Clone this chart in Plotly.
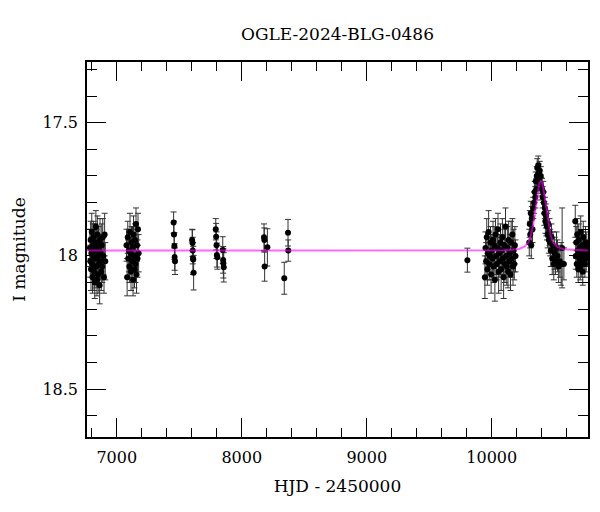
import plotly.graph_objects as go

# ---- photometry, season by season (HJD-2450000, I mag, error) ----
hjd_s1 = [6785, 6788, 6791, 6794, 6797, 6800, 6803, 6806, 6809, 6812, 6815, 6818, 6821, 6824, 6827, 6830, 6833, 6836, 6839, 6842,
          6845, 6848, 6851, 6854, 6857, 6860, 6863, 6866, 6869, 6872, 6876, 6880, 6884, 6888, 6893, 6898, 6903, 6908]
mag_s1 = [17.97, 18.02, 17.94, 18.05, 17.99, 17.91, 18.03, 18.08, 17.96, 18.00, 17.93, 18.06, 17.98, 18.10, 17.95, 18.01, 17.89, 18.04, 17.97, 18.09,
          17.92, 18.00, 18.07, 17.95, 18.03, 17.98, 18.11, 17.94, 18.02, 17.99, 18.06, 17.96, 18.04, 17.93, 18.00, 18.08, 17.92, 18.02]
err_s1 = [0.07, 0.06, 0.07, 0.08, 0.06, 0.07, 0.07, 0.06, 0.08, 0.07, 0.06, 0.07, 0.08, 0.06, 0.07, 0.07, 0.06, 0.08, 0.07, 0.06,
          0.07, 0.08, 0.07, 0.06, 0.07, 0.06, 0.07, 0.08, 0.07, 0.06, 0.07, 0.08, 0.06, 0.07, 0.07, 0.06, 0.08, 0.07]

hjd_s2 = [7078, 7083, 7088, 7092, 7097, 7101, 7106, 7110, 7114, 7118, 7122, 7126, 7130, 7134, 7138, 7142, 7146, 7150, 7154, 7158, 7162, 7166, 7170, 7175]
mag_s2 = [17.96, 18.08, 17.93, 18.01, 17.98, 18.04, 17.91, 17.99, 18.06, 17.95, 18.02, 17.97, 18.09, 17.92, 18.00, 18.05, 17.94, 18.03, 17.88, 18.07, 17.96, 18.01, 17.90, 17.99]
err_s2 = [0.06, 0.07, 0.06, 0.07, 0.08, 0.06, 0.07, 0.06, 0.07, 0.06, 0.07, 0.08, 0.06, 0.07, 0.06, 0.07, 0.06, 0.07, 0.06, 0.07, 0.06, 0.07, 0.06, 0.07]

hjd_mid = [7455, 7458, 7461, 7463, 7466, 7603, 7606, 7608, 7610, 7612, 7615, 7792, 7795, 7798, 7801, 7805, 7848, 7851, 7853, 7856,
           8178, 8181, 8183, 8205, 8340, 8370, 8372, 9805]
mag_mid = [17.875, 17.92, 17.963, 18.004, 18.02, 17.94, 17.952, 17.98, 18.01, 18.014, 18.063, 17.90, 17.928, 17.96, 17.997, 18.005, 17.978, 18.015, 18.028, 18.043,
           17.93, 17.94, 18.04, 17.968, 18.084, 17.913, 17.98, 18.016]
err_mid = [0.04, 0.05, 0.05, 0.05, 0.05, 0.04, 0.05, 0.05, 0.06, 0.05, 0.065, 0.04, 0.05, 0.05, 0.045, 0.045, 0.05, 0.05, 0.055, 0.055,
           0.05, 0.045, 0.055, 0.07, 0.06, 0.05, 0.04, 0.045]

hjd_s9 = [9945, 9950, 9955, 9960, 9965, 9970, 9975, 9980, 9985, 9990, 9995, 10000, 10005, 10010, 10015, 10020, 10025, 10030, 10035, 10040,
          10045, 10050, 10055, 10060, 10065, 10070, 10075, 10080, 10085, 10090, 10095, 10100, 10105, 10110, 10115, 10120, 10125, 10130, 10135, 10140,
          10145, 10150, 10155, 10160, 10165, 10170, 10175, 10180, 10185, 10190]
mag_s9 = [18.08, 17.97, 18.02, 17.93, 18.05, 17.99, 17.91, 18.03, 18.00, 17.95, 18.07, 17.98, 18.01, 17.94, 18.04, 17.96, 18.09, 17.92, 18.00, 18.03,
          17.97, 17.90, 18.06, 17.99, 18.02, 17.95, 18.05, 17.98, 17.93, 18.01, 18.08, 17.96, 18.03, 17.89, 18.00, 18.04, 17.97, 18.06, 17.94, 18.02,
          17.99, 18.07, 17.95, 18.01, 17.92, 18.04, 17.98, 18.03, 17.96, 18.00]
err_s9 = [0.08, 0.06, 0.07, 0.07, 0.06, 0.07, 0.08, 0.06, 0.07, 0.06, 0.07, 0.06, 0.08, 0.07, 0.06, 0.07, 0.08, 0.06, 0.07, 0.06,
          0.07, 0.06, 0.08, 0.07, 0.06, 0.07, 0.08, 0.06, 0.07, 0.06, 0.08, 0.06, 0.07, 0.07, 0.06, 0.07, 0.08, 0.06, 0.07, 0.06,
          0.07, 0.06, 0.08, 0.07, 0.06, 0.07, 0.08, 0.06, 0.07, 0.06]

hjd_pk = [10300, 10304, 10308, 10312, 10316, 10320, 10326, 10332, 10338, 10343, 10348, 10352, 10356,
          10360, 10364, 10368, 10372, 10376, 10380, 10384, 10388, 10392, 10396, 10402, 10407, 10412,
          10417, 10421, 10425, 10429, 10433, 10437, 10442, 10447, 10452, 10457, 10462,
          10467, 10472, 10478, 10484, 10490, 10496, 10503, 10510, 10518, 10526, 10535, 10545, 10555, 10563, 10577]
mag_pk = [17.95, 17.88, 17.92, 17.84, 17.96, 17.86, 17.90, 17.82, 17.80, 17.76, 17.78, 17.72, 17.75,
          17.70, 17.67, 17.72, 17.66, 17.69, 17.71, 17.68, 17.73, 17.70, 17.74, 17.75, 17.78, 17.76,
          17.80, 17.84, 17.82, 17.87, 17.85, 17.88, 17.89, 17.92, 17.88, 17.94, 17.91,
          17.95, 17.98, 17.93, 18.01, 17.96, 18.03, 17.99, 18.02, 17.97, 18.00, 18.04, 18.02, 18.03, 17.97, 18.03]
err_pk = [0.05, 0.05, 0.05, 0.045, 0.05, 0.045, 0.05, 0.04, 0.04, 0.04, 0.04, 0.035, 0.04,
          0.035, 0.035, 0.035, 0.035, 0.035, 0.035, 0.035, 0.035, 0.035, 0.035, 0.04, 0.04, 0.04,
          0.04, 0.045, 0.04, 0.045, 0.045, 0.045, 0.05, 0.05, 0.05, 0.05, 0.05,
          0.05, 0.06, 0.05, 0.06, 0.05, 0.06, 0.06, 0.05, 0.06, 0.06, 0.06, 0.06, 0.08, 0.15, 0.06]

hjd_s11 = [10668, 10672, 10676, 10680, 10684, 10688, 10692, 10696, 10700, 10704, 10708, 10712, 10716, 10720, 10724, 10728, 10732, 10736, 10740, 10745, 10750, 10755, 10760, 10765]
mag_s11 = [17.87, 18.00, 17.95, 18.03, 17.92, 17.98, 18.05, 17.94, 18.01, 17.97, 18.04, 17.91, 17.99, 18.02, 17.96, 18.06, 17.93, 18.00, 17.98, 18.03, 17.95, 18.01, 17.97, 17.99]
err_s11 = [0.06, 0.05, 0.06, 0.05, 0.06, 0.05, 0.05, 0.06, 0.05, 0.06, 0.05, 0.06, 0.05, 0.06, 0.05, 0.05, 0.06, 0.05, 0.06, 0.05, 0.06, 0.05, 0.06, 0.05]

# ---- model curve ----
model_hjd = [6760, 9900, 10092, 10212, 10262, 10292, 10312, 10327, 10342, 10352, 10362, 10372, 10382, 10392,
             10402, 10412, 10422, 10432, 10442, 10457, 10472, 10492, 10522, 10572, 10692, 10770]
model_mag = [17.98, 17.98, 17.979, 17.975, 17.965, 17.95, 17.925, 17.895, 17.85, 17.81, 17.775, 17.745, 17.725, 17.72,
             17.725, 17.745, 17.775, 17.81, 17.85, 17.895, 17.925, 17.95, 17.965, 17.975, 17.979, 17.98]

x_ticks = [7000, 8000, 9000, 10000]
y_ticks = [17.5, 18.0, 18.5]
y_ticktext = ["17.5", "18", "18.5"]

hjd = hjd_s1 + hjd_s2 + hjd_mid + hjd_s9 + hjd_pk + hjd_s11
mag = mag_s1 + mag_s2 + mag_mid + mag_s9 + mag_pk + mag_s11
err = err_s1 + err_s2 + err_mid + err_s9 + err_pk + err_s11
assert len(hjd) == len(mag) == len(err)

FONT = "DejaVu Serif"

fig = go.Figure()
fig.add_trace(go.Scatter(
    x=hjd, y=mag, mode="markers",
    marker=dict(color="black", size=6),
    error_y=dict(type="data", array=err, visible=True, color="#333333", thickness=1, width=3),
))
fig.add_trace(go.Scatter(
    x=model_hjd, y=model_mag, mode="lines",
    line=dict(color="rgba(255,0,255,0.6)", width=2),
))

axis_common = dict(
    showline=True, linecolor="black", linewidth=1.5, mirror="allticks",
    ticks="inside", tickcolor="black", tickwidth=1, ticklen=19,
    showgrid=False, zeroline=False,
    tickfont=dict(family=FONT, size=16, color="black"),
)

fig.update_layout(
    width=600, height=512,
    margin=dict(l=79, r=20, t=54, b=83),
    plot_bgcolor="white", paper_bgcolor="white",
    showlegend=False,
    font=dict(family=FONT, color="black"),
    title=dict(text="OGLE-2024-BLG-0486", x=(79 + 580) / 2 / 600, xanchor="center", y=1 - 26 / 512, yanchor="middle",
               font=dict(family=FONT, size=17, color="black")),
    xaxis=dict(
        **axis_common,
        range=[6762, 10770],
        tickmode="array", tickvals=x_ticks, ticktext=[str(v) for v in x_ticks],
        minor=dict(ticks="inside", tickmode="linear", tick0=0, dtick=200, ticklen=9, tickcolor="black", tickwidth=1),
        title=dict(text="HJD - 2450000", font=dict(family=FONT, size=17, color="black"), standoff=14),
        ticklabelstandoff=5,
    ),
    yaxis=dict(
        **axis_common,
        range=[18.68, 17.272],
        tickmode="array", tickvals=y_ticks, ticktext=y_ticktext,
        minor=dict(ticks="inside", tickmode="linear", tick0=0, dtick=0.1, ticklen=10, tickcolor="black", tickwidth=1),
        title=dict(text="I magnitude", font=dict(family=FONT, size=17, color="black"), standoff=12),
        ticklabelstandoff=4,
    ),
)

fig.write_html("out.html")
